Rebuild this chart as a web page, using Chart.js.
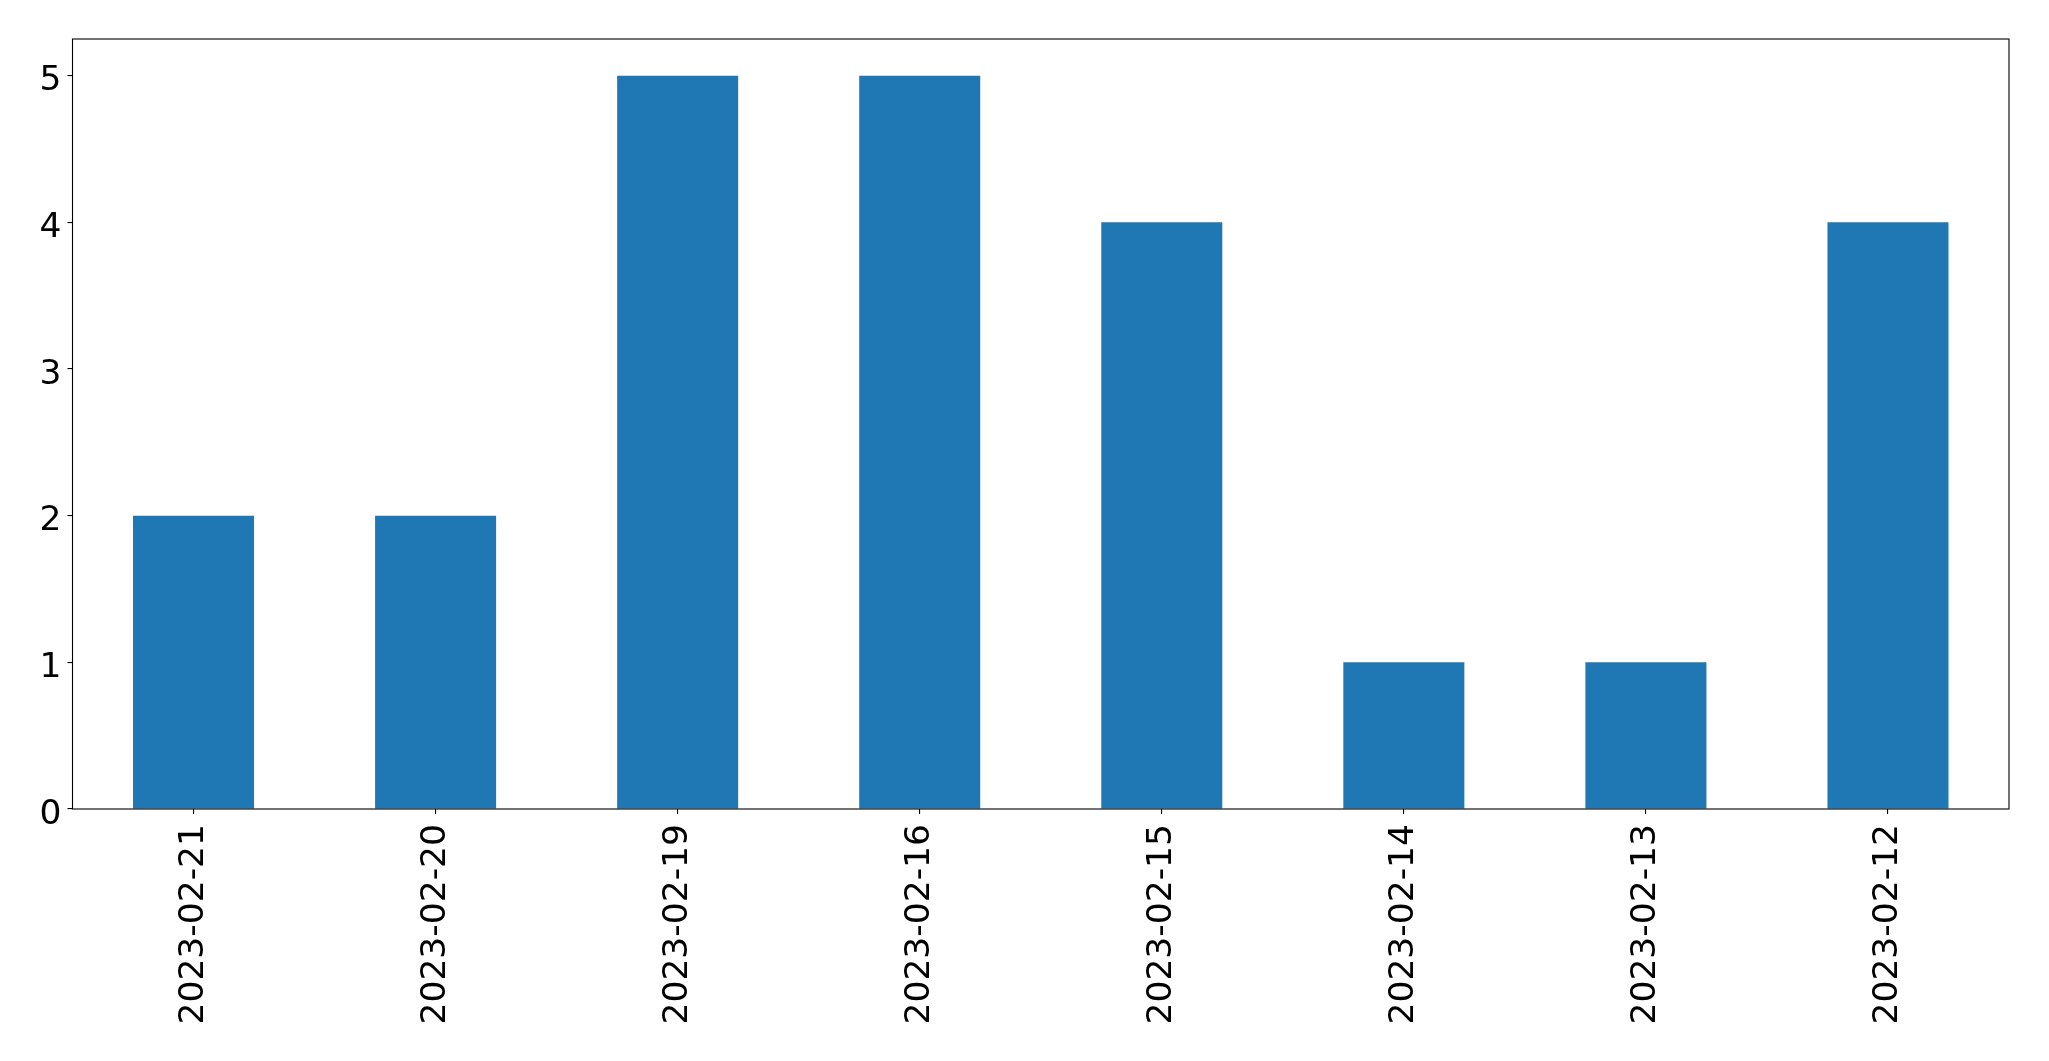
<!DOCTYPE html>
<html>
<head>
<meta charset="utf-8">
<script src="https://cdn.jsdelivr.net/npm/chart.js@4/dist/chart.umd.min.js"></script>
<style>
  html, body { margin: 0; padding: 0; background: #fff; }
  #wrap { width: 2049px; height: 1061px; }
</style>
</head>
<body>
<div id="wrap"><canvas id="chart" width="2049" height="1061"></canvas></div>
<script>
// datos del gráfico
const fechas = ["2023-02-21", "2023-02-20", "2023-02-19", "2023-02-16", "2023-02-15", "2023-02-14", "2023-02-13", "2023-02-12"];
const cantidades = [2, 2, 5, 5, 4, 1, 1, 4];
const yTicks = [0, 1, 2, 3, 4, 5];

const fuente = { family: "'DejaVu Sans', sans-serif", size: 34.5 };

// marco alrededor del área del gráfico + etiquetas del eje Y
const marco = {
    id: "marco",
    afterDraw(chart) {
        const { ctx, chartArea: a } = chart;
        ctx.save();
        ctx.strokeStyle = "#000";
        ctx.lineWidth = 1.1;
        ctx.strokeRect(a.left, a.top, a.right - a.left, a.bottom - a.top);

        // etiquetas Y alineadas como matplotlib (centro de los dígitos en la marca)
        const y = chart.scales.y;
        ctx.fillStyle = "#000";
        ctx.font = `${fuente.size}px ${fuente.family}`;
        ctx.textAlign = "right";
        ctx.textBaseline = "alphabetic";
        yTicks.forEach(v => {
            ctx.fillText(String(v), a.left - 11, y.getPixelForValue(v) + 14.5);
        });
        ctx.restore();
    }
};

new Chart(document.getElementById("chart").getContext("2d"), {
    type: "bar",
    data: {
        labels: fechas,
        datasets: [{
            data: cantidades,
            backgroundColor: "#1f77b4",
            borderWidth: 0,
            categoryPercentage: 1.0,
            barPercentage: 0.5
        }]
    },
    options: {
        responsive: false,
        animation: false,
        layout: { padding: { top: 39, right: 40, left: 0, bottom: 0 } },
        plugins: { legend: { display: false }, tooltip: { enabled: false } },
        scales: {
            x: {
                grid: { offset: false, drawOnChartArea: false, drawTicks: true, tickLength: 5, tickColor: "#000", lineWidth: 1.1 },
                border: { display: false },
                ticks: { color: "#000", font: fuente, minRotation: 90, maxRotation: 90, padding: 10 },
                afterFit(scale) { scale.height = 252; }
            },
            y: {
                min: 0,
                max: 5.25,
                grid: { drawOnChartArea: false, drawTicks: true, tickLength: 5, tickColor: "#000", lineWidth: 1.1 },
                border: { display: false },
                ticks: { display: false, stepSize: 1 },
                afterBuildTicks(scale) {
                    scale.ticks = yTicks.map(v => ({ value: v }));
                },
                afterFit(scale) { scale.width = 72.5; }
            }
        }
    },
    plugins: [marco]
});
</script>
</body>
</html>
